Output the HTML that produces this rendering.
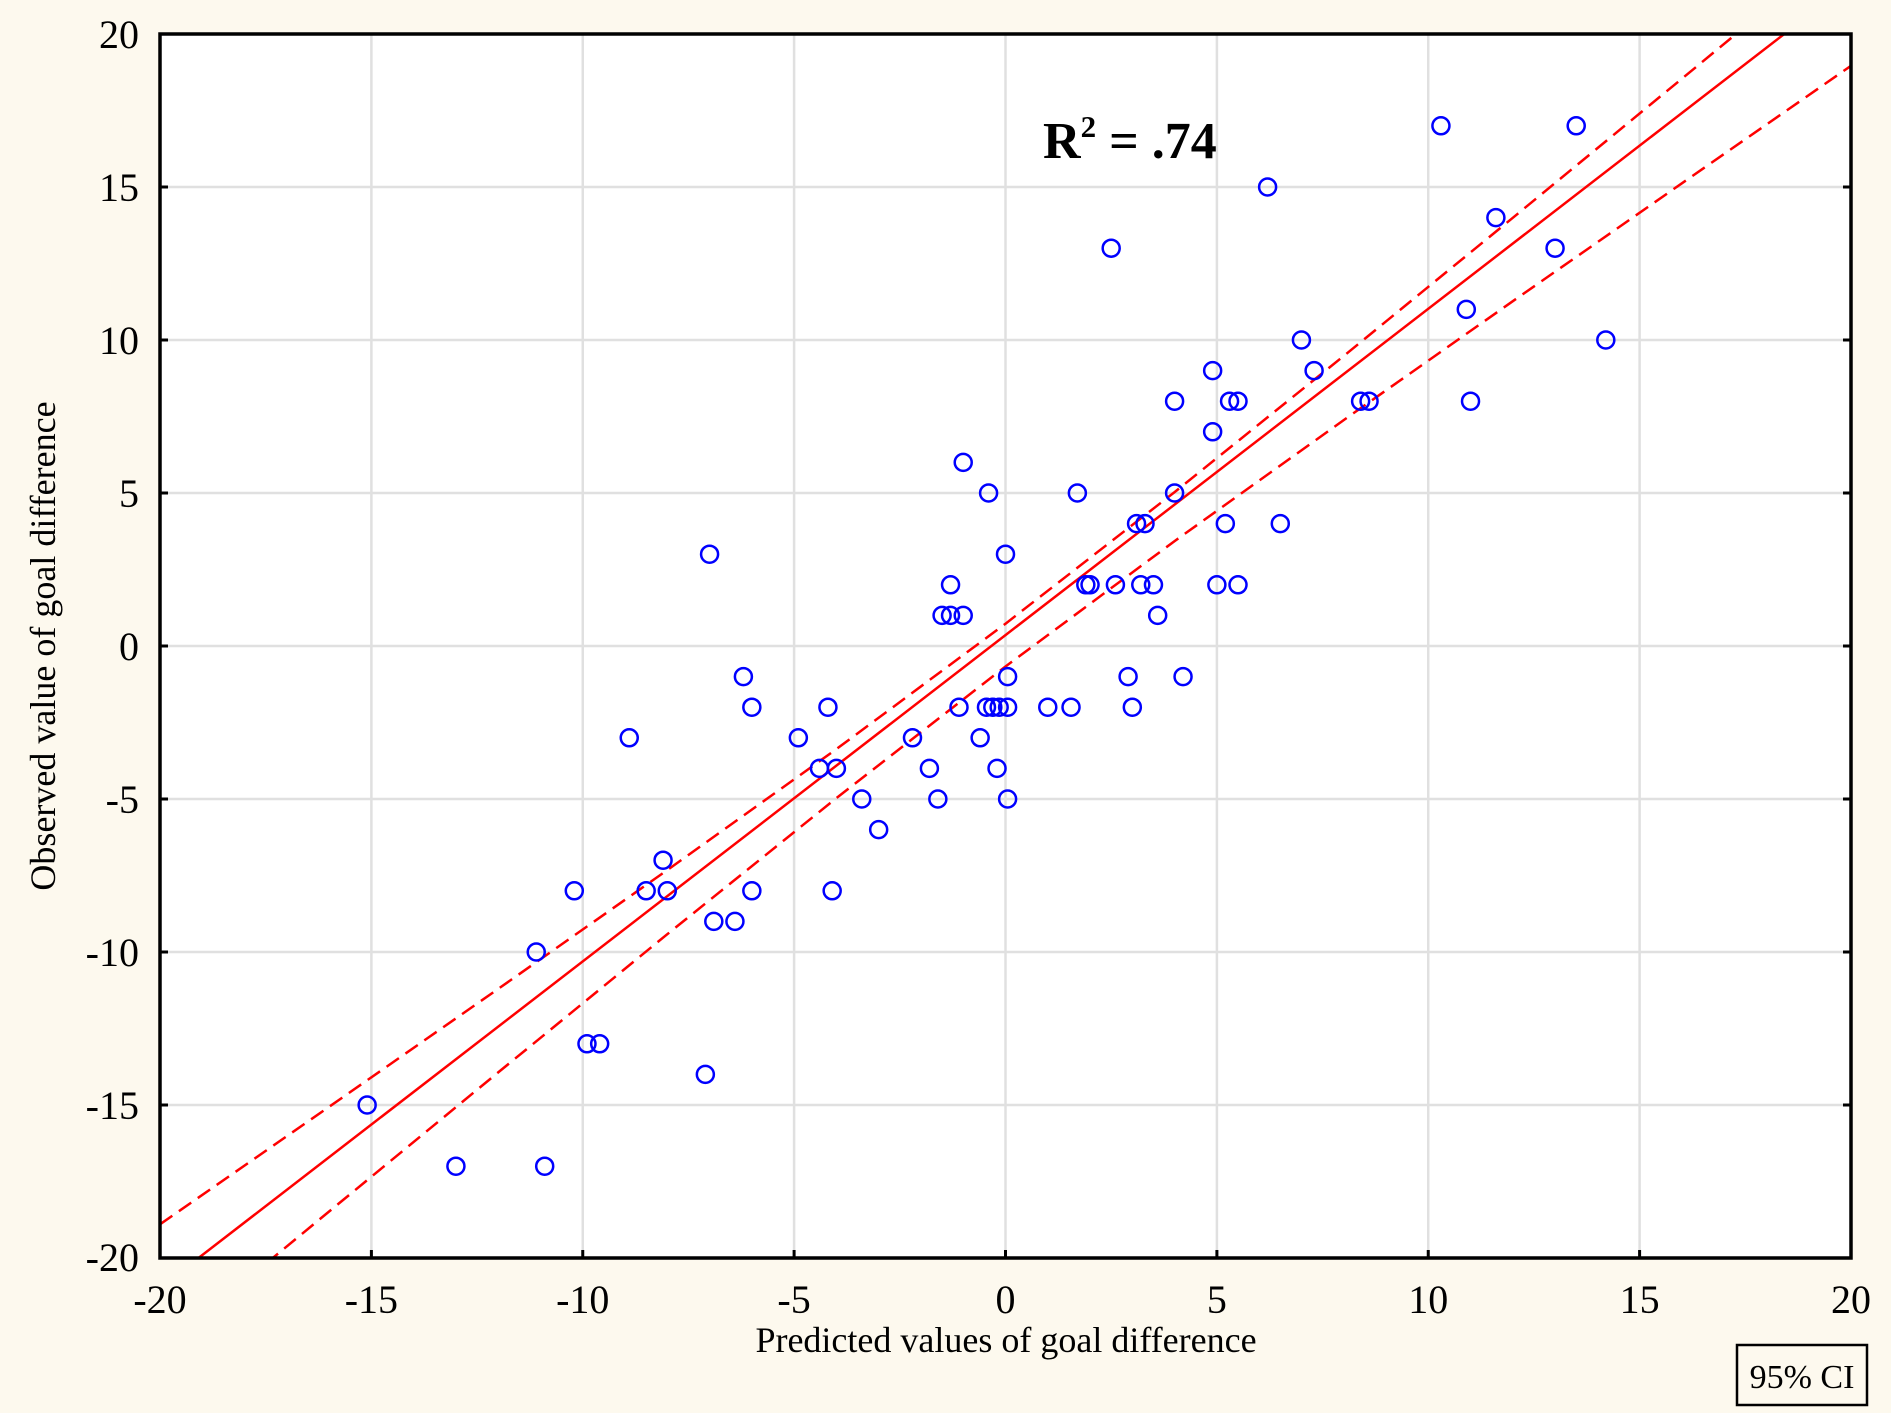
<!DOCTYPE html>
<html><head><style>
html,body{margin:0;padding:0;background:#fdf9ee;}
svg{display:block;font-family:"Liberation Serif",serif;}
</style></head><body>
<svg width="1891" height="1413" viewBox="0 0 1891 1413" xmlns="http://www.w3.org/2000/svg">
<rect width="1891" height="1413" fill="#fdf9ee"/>
<defs><clipPath id="c"><rect x="160" y="34" width="1691" height="1224"/></clipPath></defs>
<rect x="160" y="34" width="1691" height="1224" fill="#fff"/>
<g stroke="#e0e0e0" stroke-width="2.5">
<line x1="371.4" y1="34" x2="371.4" y2="1258"/><line x1="582.75" y1="34" x2="582.75" y2="1258"/>
<line x1="794.1" y1="34" x2="794.1" y2="1258"/><line x1="1005.5" y1="34" x2="1005.5" y2="1258"/>
<line x1="1216.9" y1="34" x2="1216.9" y2="1258"/><line x1="1428.25" y1="34" x2="1428.25" y2="1258"/>
<line x1="1639.6" y1="34" x2="1639.6" y2="1258"/>
<line x1="160" y1="187" x2="1851" y2="187"/><line x1="160" y1="340" x2="1851" y2="340"/>
<line x1="160" y1="493" x2="1851" y2="493"/><line x1="160" y1="646" x2="1851" y2="646"/>
<line x1="160" y1="799" x2="1851" y2="799"/><line x1="160" y1="952" x2="1851" y2="952"/>
<line x1="160" y1="1105" x2="1851" y2="1105"/>
</g>
<g clip-path="url(#c)" fill="none" stroke="#ff0000" stroke-width="2.5">
<line x1="160" y1="1287.7" x2="1851" y2="-17.5"/>
<polyline stroke-dasharray="15,8" points="160,1224.3 329.1,1106.8 498.2,988.9 667.3,870.1 836.4,749.1 1005.5,623.7 1174.6,492.1 1343.7,356 1512.8,217.8 1681.9,78.7 1851,-60.9"/>
<polyline stroke-dasharray="15,8" points="160,1351 329.1,1211.5 498.2,1072.4 667.3,934.2 836.4,798.1 1005.5,666.5 1174.6,541.1 1343.7,420.1 1512.8,301.2 1681.9,183.3 1851,65.8"/>
</g>
<g transform="translate(1005.5,646) scale(42.275,-30.6)" fill="none" stroke="#0000ff" stroke-width="2.5">
<ellipse cx="-15.1" cy="-15" rx="0.201" ry="0.278" vector-effect="non-scaling-stroke"/>
<ellipse cx="-13" cy="-17" rx="0.201" ry="0.278" vector-effect="non-scaling-stroke"/>
<ellipse cx="-10.9" cy="-17" rx="0.201" ry="0.278" vector-effect="non-scaling-stroke"/>
<ellipse cx="-11.1" cy="-10" rx="0.201" ry="0.278" vector-effect="non-scaling-stroke"/>
<ellipse cx="-10.2" cy="-8" rx="0.201" ry="0.278" vector-effect="non-scaling-stroke"/>
<ellipse cx="-9.9" cy="-13" rx="0.201" ry="0.278" vector-effect="non-scaling-stroke"/>
<ellipse cx="-9.6" cy="-13" rx="0.201" ry="0.278" vector-effect="non-scaling-stroke"/>
<ellipse cx="-8.9" cy="-3" rx="0.201" ry="0.278" vector-effect="non-scaling-stroke"/>
<ellipse cx="-8.5" cy="-8" rx="0.201" ry="0.278" vector-effect="non-scaling-stroke"/>
<ellipse cx="-8.1" cy="-7" rx="0.201" ry="0.278" vector-effect="non-scaling-stroke"/>
<ellipse cx="-8" cy="-8" rx="0.201" ry="0.278" vector-effect="non-scaling-stroke"/>
<ellipse cx="-7.1" cy="-14" rx="0.201" ry="0.278" vector-effect="non-scaling-stroke"/>
<ellipse cx="-7" cy="3" rx="0.201" ry="0.278" vector-effect="non-scaling-stroke"/>
<ellipse cx="-6.9" cy="-9" rx="0.201" ry="0.278" vector-effect="non-scaling-stroke"/>
<ellipse cx="-6.4" cy="-9" rx="0.201" ry="0.278" vector-effect="non-scaling-stroke"/>
<ellipse cx="-6.2" cy="-1" rx="0.201" ry="0.278" vector-effect="non-scaling-stroke"/>
<ellipse cx="-6" cy="-2" rx="0.201" ry="0.278" vector-effect="non-scaling-stroke"/>
<ellipse cx="-6" cy="-8" rx="0.201" ry="0.278" vector-effect="non-scaling-stroke"/>
<ellipse cx="-4.9" cy="-3" rx="0.201" ry="0.278" vector-effect="non-scaling-stroke"/>
<ellipse cx="-4.4" cy="-4" rx="0.201" ry="0.278" vector-effect="non-scaling-stroke"/>
<ellipse cx="-4.2" cy="-2" rx="0.201" ry="0.278" vector-effect="non-scaling-stroke"/>
<ellipse cx="-4.1" cy="-8" rx="0.201" ry="0.278" vector-effect="non-scaling-stroke"/>
<ellipse cx="-4" cy="-4" rx="0.201" ry="0.278" vector-effect="non-scaling-stroke"/>
<ellipse cx="-3.4" cy="-5" rx="0.201" ry="0.278" vector-effect="non-scaling-stroke"/>
<ellipse cx="-3" cy="-6" rx="0.201" ry="0.278" vector-effect="non-scaling-stroke"/>
<ellipse cx="-2.2" cy="-3" rx="0.201" ry="0.278" vector-effect="non-scaling-stroke"/>
<ellipse cx="-1.8" cy="-4" rx="0.201" ry="0.278" vector-effect="non-scaling-stroke"/>
<ellipse cx="-1.6" cy="-5" rx="0.201" ry="0.278" vector-effect="non-scaling-stroke"/>
<ellipse cx="-1.5" cy="1" rx="0.201" ry="0.278" vector-effect="non-scaling-stroke"/>
<ellipse cx="-1.3" cy="1" rx="0.201" ry="0.278" vector-effect="non-scaling-stroke"/>
<ellipse cx="-1.3" cy="2" rx="0.201" ry="0.278" vector-effect="non-scaling-stroke"/>
<ellipse cx="-1.1" cy="-2" rx="0.201" ry="0.278" vector-effect="non-scaling-stroke"/>
<ellipse cx="-1" cy="1" rx="0.201" ry="0.278" vector-effect="non-scaling-stroke"/>
<ellipse cx="-1" cy="6" rx="0.201" ry="0.278" vector-effect="non-scaling-stroke"/>
<ellipse cx="-0.6" cy="-3" rx="0.201" ry="0.278" vector-effect="non-scaling-stroke"/>
<ellipse cx="-0.45" cy="-2" rx="0.201" ry="0.278" vector-effect="non-scaling-stroke"/>
<ellipse cx="-0.3" cy="-2" rx="0.201" ry="0.278" vector-effect="non-scaling-stroke"/>
<ellipse cx="-0.4" cy="5" rx="0.201" ry="0.278" vector-effect="non-scaling-stroke"/>
<ellipse cx="-0.15" cy="-2" rx="0.201" ry="0.278" vector-effect="non-scaling-stroke"/>
<ellipse cx="-0.2" cy="-4" rx="0.201" ry="0.278" vector-effect="non-scaling-stroke"/>
<ellipse cx="0" cy="3" rx="0.201" ry="0.278" vector-effect="non-scaling-stroke"/>
<ellipse cx="0.05" cy="-1" rx="0.201" ry="0.278" vector-effect="non-scaling-stroke"/>
<ellipse cx="0.05" cy="-2" rx="0.201" ry="0.278" vector-effect="non-scaling-stroke"/>
<ellipse cx="0.05" cy="-5" rx="0.201" ry="0.278" vector-effect="non-scaling-stroke"/>
<ellipse cx="1" cy="-2" rx="0.201" ry="0.278" vector-effect="non-scaling-stroke"/>
<ellipse cx="1.55" cy="-2" rx="0.201" ry="0.278" vector-effect="non-scaling-stroke"/>
<ellipse cx="1.7" cy="5" rx="0.201" ry="0.278" vector-effect="non-scaling-stroke"/>
<ellipse cx="1.9" cy="2" rx="0.201" ry="0.278" vector-effect="non-scaling-stroke"/>
<ellipse cx="2" cy="2" rx="0.201" ry="0.278" vector-effect="non-scaling-stroke"/>
<ellipse cx="2.5" cy="13" rx="0.201" ry="0.278" vector-effect="non-scaling-stroke"/>
<ellipse cx="2.6" cy="2" rx="0.201" ry="0.278" vector-effect="non-scaling-stroke"/>
<ellipse cx="2.9" cy="-1" rx="0.201" ry="0.278" vector-effect="non-scaling-stroke"/>
<ellipse cx="3" cy="-2" rx="0.201" ry="0.278" vector-effect="non-scaling-stroke"/>
<ellipse cx="3.1" cy="4" rx="0.201" ry="0.278" vector-effect="non-scaling-stroke"/>
<ellipse cx="3.3" cy="4" rx="0.201" ry="0.278" vector-effect="non-scaling-stroke"/>
<ellipse cx="3.2" cy="2" rx="0.201" ry="0.278" vector-effect="non-scaling-stroke"/>
<ellipse cx="3.5" cy="2" rx="0.201" ry="0.278" vector-effect="non-scaling-stroke"/>
<ellipse cx="3.6" cy="1" rx="0.201" ry="0.278" vector-effect="non-scaling-stroke"/>
<ellipse cx="4" cy="8" rx="0.201" ry="0.278" vector-effect="non-scaling-stroke"/>
<ellipse cx="4" cy="5" rx="0.201" ry="0.278" vector-effect="non-scaling-stroke"/>
<ellipse cx="4.2" cy="-1" rx="0.201" ry="0.278" vector-effect="non-scaling-stroke"/>
<ellipse cx="4.9" cy="7" rx="0.201" ry="0.278" vector-effect="non-scaling-stroke"/>
<ellipse cx="4.9" cy="9" rx="0.201" ry="0.278" vector-effect="non-scaling-stroke"/>
<ellipse cx="5" cy="2" rx="0.201" ry="0.278" vector-effect="non-scaling-stroke"/>
<ellipse cx="5.2" cy="4" rx="0.201" ry="0.278" vector-effect="non-scaling-stroke"/>
<ellipse cx="5.3" cy="8" rx="0.201" ry="0.278" vector-effect="non-scaling-stroke"/>
<ellipse cx="5.5" cy="8" rx="0.201" ry="0.278" vector-effect="non-scaling-stroke"/>
<ellipse cx="5.5" cy="2" rx="0.201" ry="0.278" vector-effect="non-scaling-stroke"/>
<ellipse cx="6.2" cy="15" rx="0.201" ry="0.278" vector-effect="non-scaling-stroke"/>
<ellipse cx="6.5" cy="4" rx="0.201" ry="0.278" vector-effect="non-scaling-stroke"/>
<ellipse cx="7" cy="10" rx="0.201" ry="0.278" vector-effect="non-scaling-stroke"/>
<ellipse cx="7.3" cy="9" rx="0.201" ry="0.278" vector-effect="non-scaling-stroke"/>
<ellipse cx="8.4" cy="8" rx="0.201" ry="0.278" vector-effect="non-scaling-stroke"/>
<ellipse cx="8.6" cy="8" rx="0.201" ry="0.278" vector-effect="non-scaling-stroke"/>
<ellipse cx="10.3" cy="17" rx="0.201" ry="0.278" vector-effect="non-scaling-stroke"/>
<ellipse cx="10.9" cy="11" rx="0.201" ry="0.278" vector-effect="non-scaling-stroke"/>
<ellipse cx="11" cy="8" rx="0.201" ry="0.278" vector-effect="non-scaling-stroke"/>
<ellipse cx="11.6" cy="14" rx="0.201" ry="0.278" vector-effect="non-scaling-stroke"/>
<ellipse cx="13" cy="13" rx="0.201" ry="0.278" vector-effect="non-scaling-stroke"/>
<ellipse cx="13.5" cy="17" rx="0.201" ry="0.278" vector-effect="non-scaling-stroke"/>
<ellipse cx="14.2" cy="10" rx="0.201" ry="0.278" vector-effect="non-scaling-stroke"/>
</g>
<rect x="160" y="34" width="1691" height="1224" fill="none" stroke="#000" stroke-width="3.5"/>
<g stroke="#000" stroke-width="3">
<path d="M371.4,1258v-8M582.75,1258v-8M794.1,1258v-8M1005.5,1258v-8M1216.9,1258v-8M1428.25,1258v-8M1639.6,1258v-8"/>
<path d="M160,187h8M160,340h8M160,493h8M160,646h8M160,799h8M160,952h8M160,1105h8"/>
<path d="M1851,187h-8M1851,340h-8M1851,493h-8M1851,646h-8M1851,799h-8M1851,952h-8M1851,1105h-8"/>
</g>
<g font-size="40" fill="#000" text-anchor="end">
<text x="139" y="48">20</text><text x="139" y="201">15</text><text x="139" y="354">10</text>
<text x="139" y="507">5</text><text x="139" y="660">0</text><text x="139" y="813">-5</text>
<text x="139" y="966">-10</text><text x="139" y="1119">-15</text><text x="139" y="1271">-20</text>
</g>
<g font-size="40" fill="#000" text-anchor="middle">
<text x="160" y="1313">-20</text><text x="371.4" y="1313">-15</text><text x="582.75" y="1313">-10</text>
<text x="794.1" y="1313">-5</text><text x="1005.5" y="1313">0</text><text x="1216.9" y="1313">5</text>
<text x="1428.25" y="1313">10</text><text x="1639.6" y="1313">15</text><text x="1851" y="1313">20</text>
</g>
<text x="1006" y="1352" font-size="36" text-anchor="middle">Predicted values of goal difference</text>
<text transform="translate(55,646) rotate(-90)" font-size="36" text-anchor="middle">Observed value of goal difference</text>
<text x="1043" y="158" font-size="52" font-weight="bold">R<tspan font-size="31" dy="-21">2</tspan><tspan dy="21"> = .74</tspan></text>
<rect x="1737" y="1345" width="130" height="60" fill="none" stroke="#000" stroke-width="2.5"/>
<text x="1802" y="1388" font-size="34" text-anchor="middle">95% CI</text>
</svg>
</body></html>
